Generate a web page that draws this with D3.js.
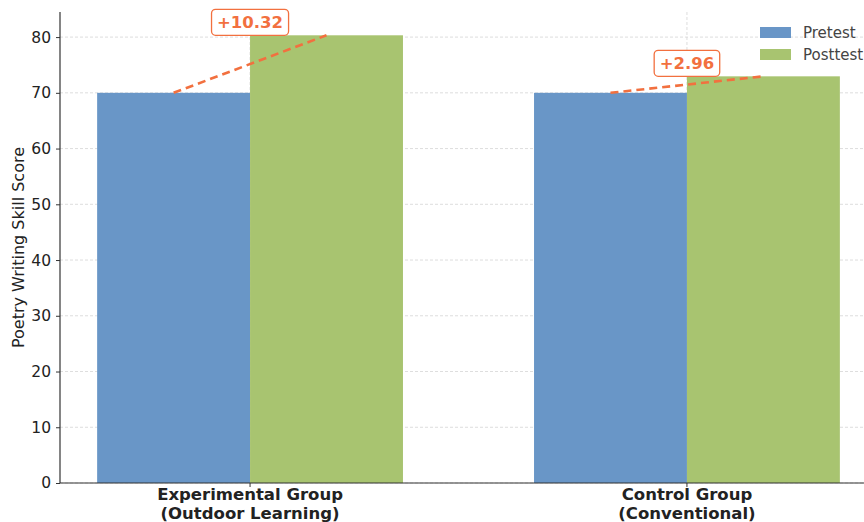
<!DOCTYPE html>
<html>
<head>
<meta charset="utf-8">
<script src="https://cdn.jsdelivr.net/npm/d3@7/dist/d3.min.js"></script>
<style>
  body { margin: 0; background: #fff; }
  text { font-family: "DejaVu Sans", sans-serif; }
</style>
</head>
<body>
<div id="chart"></div>
<script>
// data
var groups = ["Experimental Group\n(Outdoor Learning)", "Control Group\n(Conventional)"];
var series = ["Pretest", "Posttest"];
var pretest = [70.0, 70.0];
var posttest = [80.32, 72.96];
var yTicks = [0, 10, 20, 30, 40, 50, 60, 70, 80];

var colors = { Pretest: "#6996c7", Posttest: "#a8c470" };
var accent = "#f2703f";

var svg_width = 864, svg_height = 522;
var margins = { top: 12, left: 60, bottom: 39, right: 0 };
var height = svg_height - margins.top - margins.bottom;

var svg = d3.select("#chart").append("svg")
  .attr("width", svg_width)
  .attr("height", svg_height);

var g = svg.append("g").attr("transform", "translate(" + margins.left + "," + margins.top + ")");

// linear x in "group index" units, like matplotlib bar positions
var barW = 0.35;
var x = d3.scaleLinear().domain([-0.435, 1.435]).range([0, 877 - margins.left]);
var y = d3.scaleLinear().domain([0, 84.5]).range([height, 0]);

// grid lines (dashed, behind bars)
g.append("g").selectAll("line.hgrid")
  .data(yTicks).enter().append("line")
  .attr("x1", 0).attr("x2", x(1.435))
  .attr("y1", d => y(d)).attr("y2", d => y(d))
  .style("stroke", "#d4d4d4").style("stroke-width", 0.8).style("stroke-dasharray", "3,2");

g.append("g").selectAll("line.vgrid")
  .data([0, 1]).enter().append("line")
  .attr("x1", d => x(d)).attr("x2", d => x(d))
  .attr("y1", 0).attr("y2", height)
  .style("stroke", "#d4d4d4").style("stroke-width", 0.8).style("stroke-dasharray", "3,2");

// bars
var rows = [];
groups.forEach(function(grp, i) {
  rows.push({ i: i, s: "Pretest", v: pretest[i], off: -barW / 2 });
  rows.push({ i: i, s: "Posttest", v: posttest[i], off: barW / 2 });
});

g.append("g").selectAll("rect")
  .data(rows).enter().append("rect")
  .attr("x", d => x(d.i + d.off - barW / 2))
  .attr("width", d => x(barW) - x(0))
  .attr("y", d => y(d.v))
  .attr("height", d => y(0) - y(d.v))
  .style("fill", d => colors[d.s]);

// dashed change lines + labels
groups.forEach(function(grp, i) {
  g.append("line")
    .attr("x1", x(i - barW / 2)).attr("y1", y(pretest[i]))
    .attr("x2", x(i + barW / 2)).attr("y2", y(posttest[i]))
    .style("stroke", accent).style("stroke-width", 2.6)
    .style("stroke-dasharray", "8,5");

  var diff = posttest[i] - pretest[i];
  var lbl = g.append("g")
    .attr("transform", "translate(" + x(i) + "," + (y(posttest[i]) - 13) + ")");
  var t = lbl.append("text")
    .attr("text-anchor", "middle")
    .attr("dy", "0.36em")
    .style("font-size", "16.5px")
    .style("font-weight", "bold")
    .style("fill", accent)
    .text("+" + diff.toFixed(2));
  var bb = t.node().getBBox();
  lbl.insert("rect", "text")
    .attr("x", bb.x - 5.5).attr("y", -13)
    .attr("width", bb.width + 11).attr("height", 26)
    .attr("rx", 4)
    .style("fill", "#fff")
    .style("stroke", accent).style("stroke-width", 1.3);
});

// y axis
var yAxis = d3.axisLeft(y).tickValues(yTicks).tickSize(4).tickPadding(5);
var ya = g.append("g").call(yAxis);
ya.select(".domain").attr("d", "M0," + height + "V0").style("stroke", "#333").style("stroke-width", 1.2);
ya.selectAll(".tick line").style("stroke", "#333");
ya.selectAll(".tick text").style("font-size", "15.5px").style("fill", "#222")
  .style("font-family", "DejaVu Sans, sans-serif");

// x axis
var xa = g.append("g").attr("transform", "translate(0," + height + ")");
xa.append("line").attr("x1", 0).attr("x2", x(1.435))
  .style("stroke", "#333").style("stroke-width", 1.2);
var xt = xa.selectAll("g.tick").data(groups).enter().append("g")
  .attr("transform", (d, i) => "translate(" + x(i) + ",0)");
xt.append("line").attr("y2", 4).style("stroke", "#333");
xt.append("text")
  .attr("text-anchor", "middle")
  .style("font-size", "16.5px").style("font-weight", "bold").style("fill", "#222")
  .selectAll("tspan").data(d => d.split("\n")).enter().append("tspan")
  .attr("x", 0).attr("y", (d, k) => 17 + k * 19)
  .text(d => d);

// y axis title
svg.append("text")
  .attr("transform", "translate(24," + (margins.top + height / 2) + ") rotate(-90)")
  .attr("text-anchor", "middle")
  .style("font-size", "16px").style("fill", "#222")
  .text("Poetry Writing Skill Score");

// legend
var legend = svg.append("g").attr("transform", "translate(760,27)");
var li = legend.selectAll("g").data(series).enter().append("g")
  .attr("transform", (d, i) => "translate(0," + i * 22 + ")");
li.append("rect").attr("width", 31).attr("height", 11).style("fill", d => colors[d]);
li.append("text").attr("x", 43).attr("y", 5.5).attr("dy", "0.36em")
  .style("font-size", "15px").style("fill", "#444").text(d => d);
</script>
</body>
</html>
